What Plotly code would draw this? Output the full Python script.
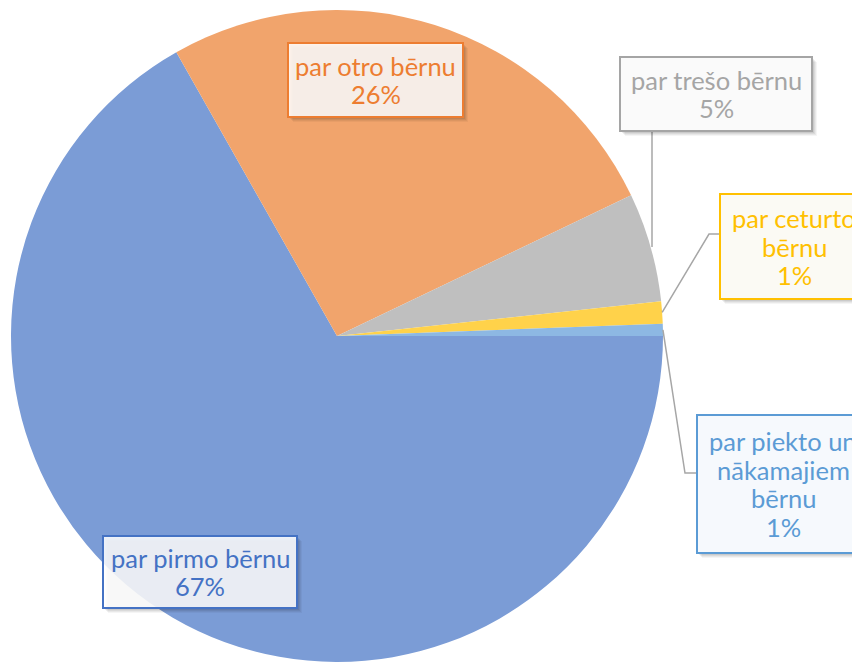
import math
import plotly.graph_objects as go

W, H = 852, 654
OFF = 8  # page body margin offset of the figure in the window

# ---- data ----
categories = ["par pirmo bērnu", "par otro bērnu", "par trešo bērnu",
              "par ceturto bērnu", "par piekto un nākamajiem bērnu"]
label_lines = [["par pirmo bērnu"], ["par otro bērnu"], ["par trešo bērnu"],
               ["par ceturto", "bērnu"], ["par piekto un", "nākamajiem", "bērnu"]]
values = [66.8, 26.1, 5.4, 1.1, 0.6]

# ---- styles ----
slice_colors = ["#7B9CD6", "#F1A46C", "#BFBFBF", "#FFD24A", "#8DB8E3"]
accent = ["#4472C4", "#ED7D31", "#A5A5A5", "#FFC000", "#5B9BD5"]
box_bg = ["rgba(255,255,255,0.86)", "rgba(255,255,255,0.86)", "#FAFAFA",
          "#FBFAF4", "#F6F9FD"]
# label boxes in window pixels (x0, y0, x1, y1)
boxes = [(103, 536, 297, 608), (288, 43, 463, 117), (620, 57, 812, 131),
         (720, 194, 868, 299), (697, 415, 869, 553)]
FONT = "Lato"
FS = 25.5
PITCH = 28.5

def px(x):
    return (x - OFF) / W

def py(y):
    return 1 - (y - OFF) / H

# pie circle in window pixels: left 10, right 664, top 10
dom_x = [px(10), px(664)]
dom_y = [0.0, py(10)]

fig = go.Figure(go.Pie(
    labels=categories, values=values, sort=False, direction="clockwise",
    rotation=90, marker=dict(colors=slice_colors, line=dict(width=0)),
    textinfo="none", hoverinfo="label+percent", showlegend=False,
    domain=dict(x=dom_x, y=dom_y),
))

shapes = []
annotations = []

total = sum(values)
cx = (dom_x[0] + dom_x[1]) / 2 * W + OFF
R = min((dom_x[1] - dom_x[0]) * W, (dom_y[1] - dom_y[0]) * H) / 2
cy = 10 + R

cum = 0.0
mids = []
for v in values:
    a0 = 90 + cum / total * 360
    cum += v
    a1 = 90 + cum / total * 360
    mids.append(math.radians((a0 + a1) / 2))

def edge_point(i):
    a = mids[i]
    return cx + R * math.sin(a), cy - R * math.cos(a)

line_style = dict(color="#A6A6A6", width=1.5)
# trešo: vertical from inside the slice up to box bottom
x, y = edge_point(2)
shapes.append(dict(type="line", xref="paper", yref="paper",
                   x0=px(652), y0=py(y), x1=px(652), y1=py(boxes[2][3]),
                   line=line_style, layer="above"))
# ceturto: diagonal then horizontal to box left
x, y = edge_point(3)
ey = 234
shapes.append(dict(type="path", xref="paper", yref="paper",
                   path=f"M {px(x)} {py(y)} L {px(709)} {py(ey)} L {px(boxes[3][0])} {py(ey)}",
                   line=line_style, layer="above"))
# piekto
x, y = edge_point(4)
ey = 473
shapes.append(dict(type="path", xref="paper", yref="paper",
                   path=f"M {px(x)} {py(y)} L {px(685)} {py(ey)} L {px(boxes[4][0])} {py(ey)}",
                   line=line_style, layer="above"))

for i, (x0, y0, x1, y1) in enumerate(boxes):
    for k, op in ((5, 0.04), (4, 0.05), (3, 0.06), (2, 0.07)):
        shapes.append(dict(type="rect", xref="paper", yref="paper",
                           x0=px(x0 + k), y0=py(y0 + k), x1=px(x1 + k), y1=py(y1 + k),
                           fillcolor=f"rgba(0,0,0,{op})", line=dict(width=0),
                           layer="above"))
    shapes.append(dict(type="rect", xref="paper", yref="paper",
                       x0=px(x0), y0=py(y0), x1=px(x1), y1=py(y1),
                       fillcolor=box_bg[i], line=dict(color=accent[i], width=2),
                       layer="above"))
    pct = values[i] / total * 100
    lines = label_lines[i] + [f"{pct:.0f}%"]
    n = len(lines)
    mx = (x0 + x1) / 2
    my = (y0 + y1) / 2
    for j, t in enumerate(lines):
        ly = my + (j - (n - 1) / 2) * PITCH
        annotations.append(dict(text=t, xref="paper", yref="paper",
                                x=px(mx), y=py(ly), xanchor="center", yanchor="middle",
                                showarrow=False,
                                font=dict(family=FONT, size=FS, color=accent[i])))

fig.update_layout(width=W, height=H, margin=dict(l=0, r=0, t=0, b=0),
                  paper_bgcolor="white", plot_bgcolor="white",
                  shapes=shapes, annotations=annotations)

fig.write_html("out.html")
